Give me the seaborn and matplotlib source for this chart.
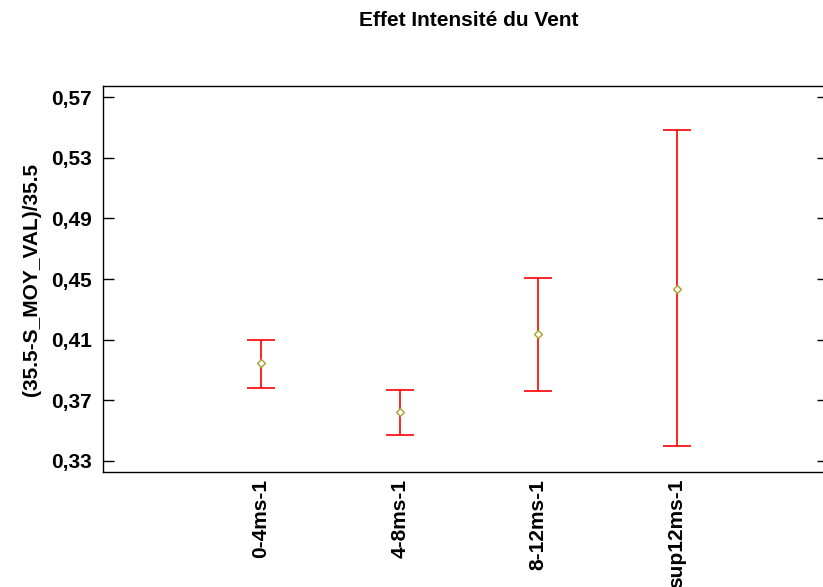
import matplotlib
matplotlib.use("Agg")
import matplotlib.pyplot as plt
import seaborn as sns
import pandas as pd
import numpy as np

categories = ["0-4ms-1", "4-8ms-1", "8-12ms-1", "sup12ms-1"]
means = [0.3947, 0.3624, 0.4138, 0.4434]
lower = [0.3780, 0.3472, 0.3762, 0.3399]
upper = [0.4100, 0.3769, 0.4507, 0.5482]
yticks = [0.33, 0.37, 0.41, 0.45, 0.49, 0.53, 0.57]

sns.set_theme(style="white")
plt.rcParams['font.family'] = ['Liberation Sans', 'DejaVu Sans']
plt.rcParams['text.color'] = 'black'
plt.rcParams['axes.labelcolor'] = 'black'
plt.rcParams['xtick.color'] = 'black'
plt.rcParams['ytick.color'] = 'black'

df = pd.DataFrame({"cat": categories, "mean": means, "lo": lower, "hi": upper})
df["x"] = np.arange(len(categories))

fig = plt.figure(figsize=(8.23, 5.87), dpi=100)
ax = fig.add_axes([103/823, (587-472)/587, (828-103)/823, (472-86)/587])

ax.errorbar(df["x"], df["mean"],
            yerr=[df["mean"] - df["lo"], df["hi"] - df["mean"]],
            fmt="none", ecolor="#ff0000", elinewidth=1.2, capsize=10, capthick=1.2, zorder=2)
sns.scatterplot(data=df, x="x", y="mean", marker="D", s=16, facecolor="white",
                edgecolor="#a8a030", linewidth=1.0, ax=ax, zorder=3, legend=False)

ax.set_xlim(-1.14, 4.09)
ax.set_ylim(0.3227, 0.5773)
ax.set_xticks(df["x"])
ax.set_xticklabels(categories, rotation=90, fontsize=15, fontweight="bold", va="top", color="black")
ax.set_yticks(yticks)
ax.set_yticklabels([f"{v:.2f}".replace(".", ",") for v in yticks], fontsize=15, fontweight="bold", color="black")
ax.tick_params(axis="y", direction="in", length=8, width=1, left=True, right=True, colors="black", pad=8)
ax.tick_params(axis="x", length=0, pad=5)
ax.set_xlabel("")
ax.set_ylabel("(35.5-S_MOY_VAL)/35.5", fontsize=15, fontweight="bold", labelpad=7, color="black")
for s in ax.spines.values():
    s.set_color("black")
    s.set_linewidth(1.0)
ax.grid(False)

fig.text(469/823, 1 - 20/587, "Effet Intensité du Vent", ha="center", va="center",
         fontsize=15, fontweight="bold", color="black")

fig.savefig("out.png", dpi=100)
